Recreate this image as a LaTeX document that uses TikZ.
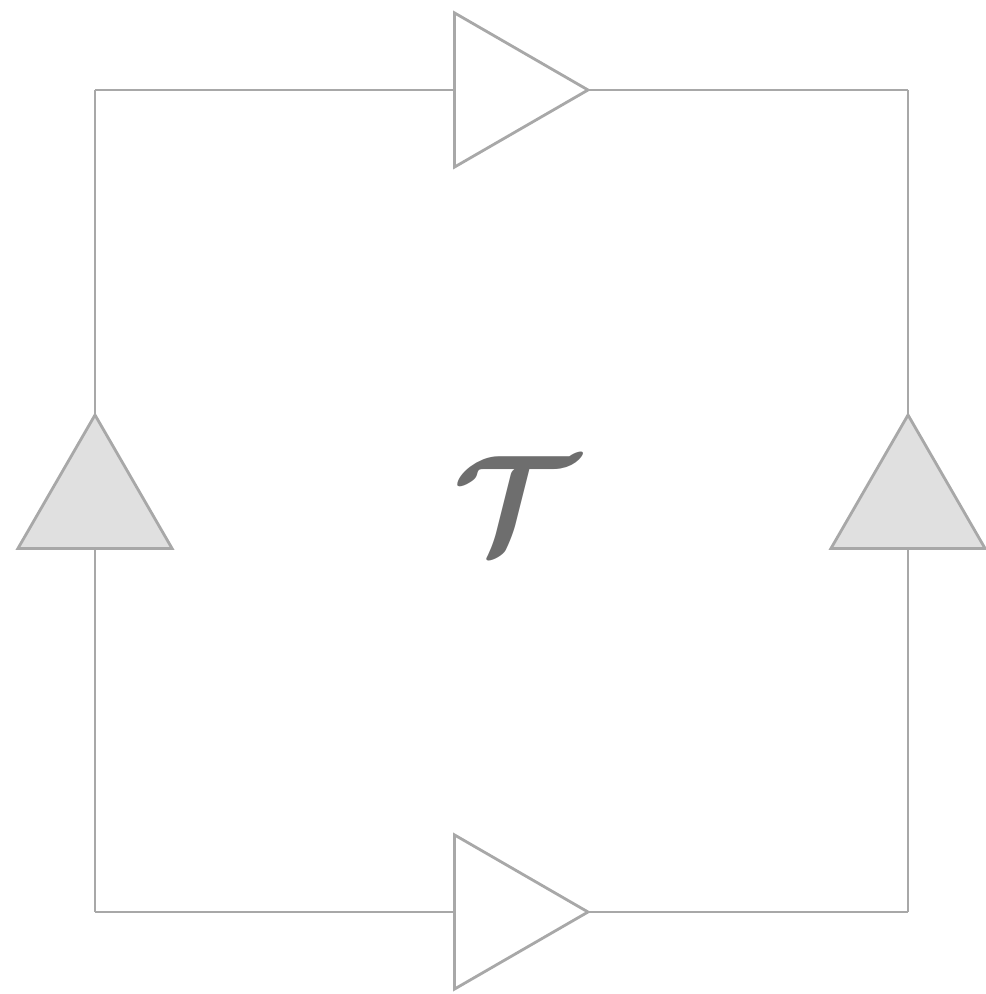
\documentclass[tikz,border=0pt]{standalone}
\usepackage{amsmath}
\usepackage{bm}
\usetikzlibrary{shapes.geometric}
\definecolor{loopline}{HTML}{A8A8A8}
\definecolor{loopfill}{HTML}{E0E0E0}
\definecolor{looptext}{HTML}{6E6E6E}

\begin{document}
\begin{tikzpicture}[x=1cm,y=1cm]
  \tikzstyle{wire}=[draw=loopline, line width=0.8pt]
  \tikzstyle{flowtri}=[regular polygon, regular polygon sides=3, minimum size=1.78cm,
    inner sep=0pt, outer sep=0pt, draw=loopline, line width=0.8pt]
  \tikzstyle{open}=[flowtri, fill=white]
  \tikzstyle{shaded}=[flowtri, fill=loopfill]

  \useasboundingbox (0,0) rectangle (9.85,9.94);

  % corners of the loop
  \coordinate (nw) at (0.95,9.04);
  \coordinate (ne) at (9.08,9.04);
  \coordinate (sw) at (0.95,0.82);
  \coordinate (se) at (9.08,0.82);

  % arrow heads on the loop
  \node[open, shape border rotate=-90] (top) at (4.99,9.04) {};
  \node[open, shape border rotate=-90] (bot) at (4.99,0.82) {};
  \node[shaded] (left) at (0.95,4.90) {};
  \node[shaded] (right) at (9.08,4.90) {};

  \draw[wire] (nw) -- (top.side 2);
  \draw[wire] (top.corner 1) -- (ne);
  \draw[wire] (sw) -- (bot.side 2);
  \draw[wire] (bot.corner 1) -- (se);
  \draw[wire] (sw) -- (left.side 2);
  \draw[wire] (left.corner 1) -- (nw);
  \draw[wire] (se) -- (right.side 2);
  \draw[wire] (right.corner 1) -- (ne);

  \node[text=looptext, font=\fontsize{46}{50}\selectfont] (tcal) at (5.15,4.90)
    {\scalebox{1.58}{$\bm{\mathcal{T}}$}};
\end{tikzpicture}
\end{document}
